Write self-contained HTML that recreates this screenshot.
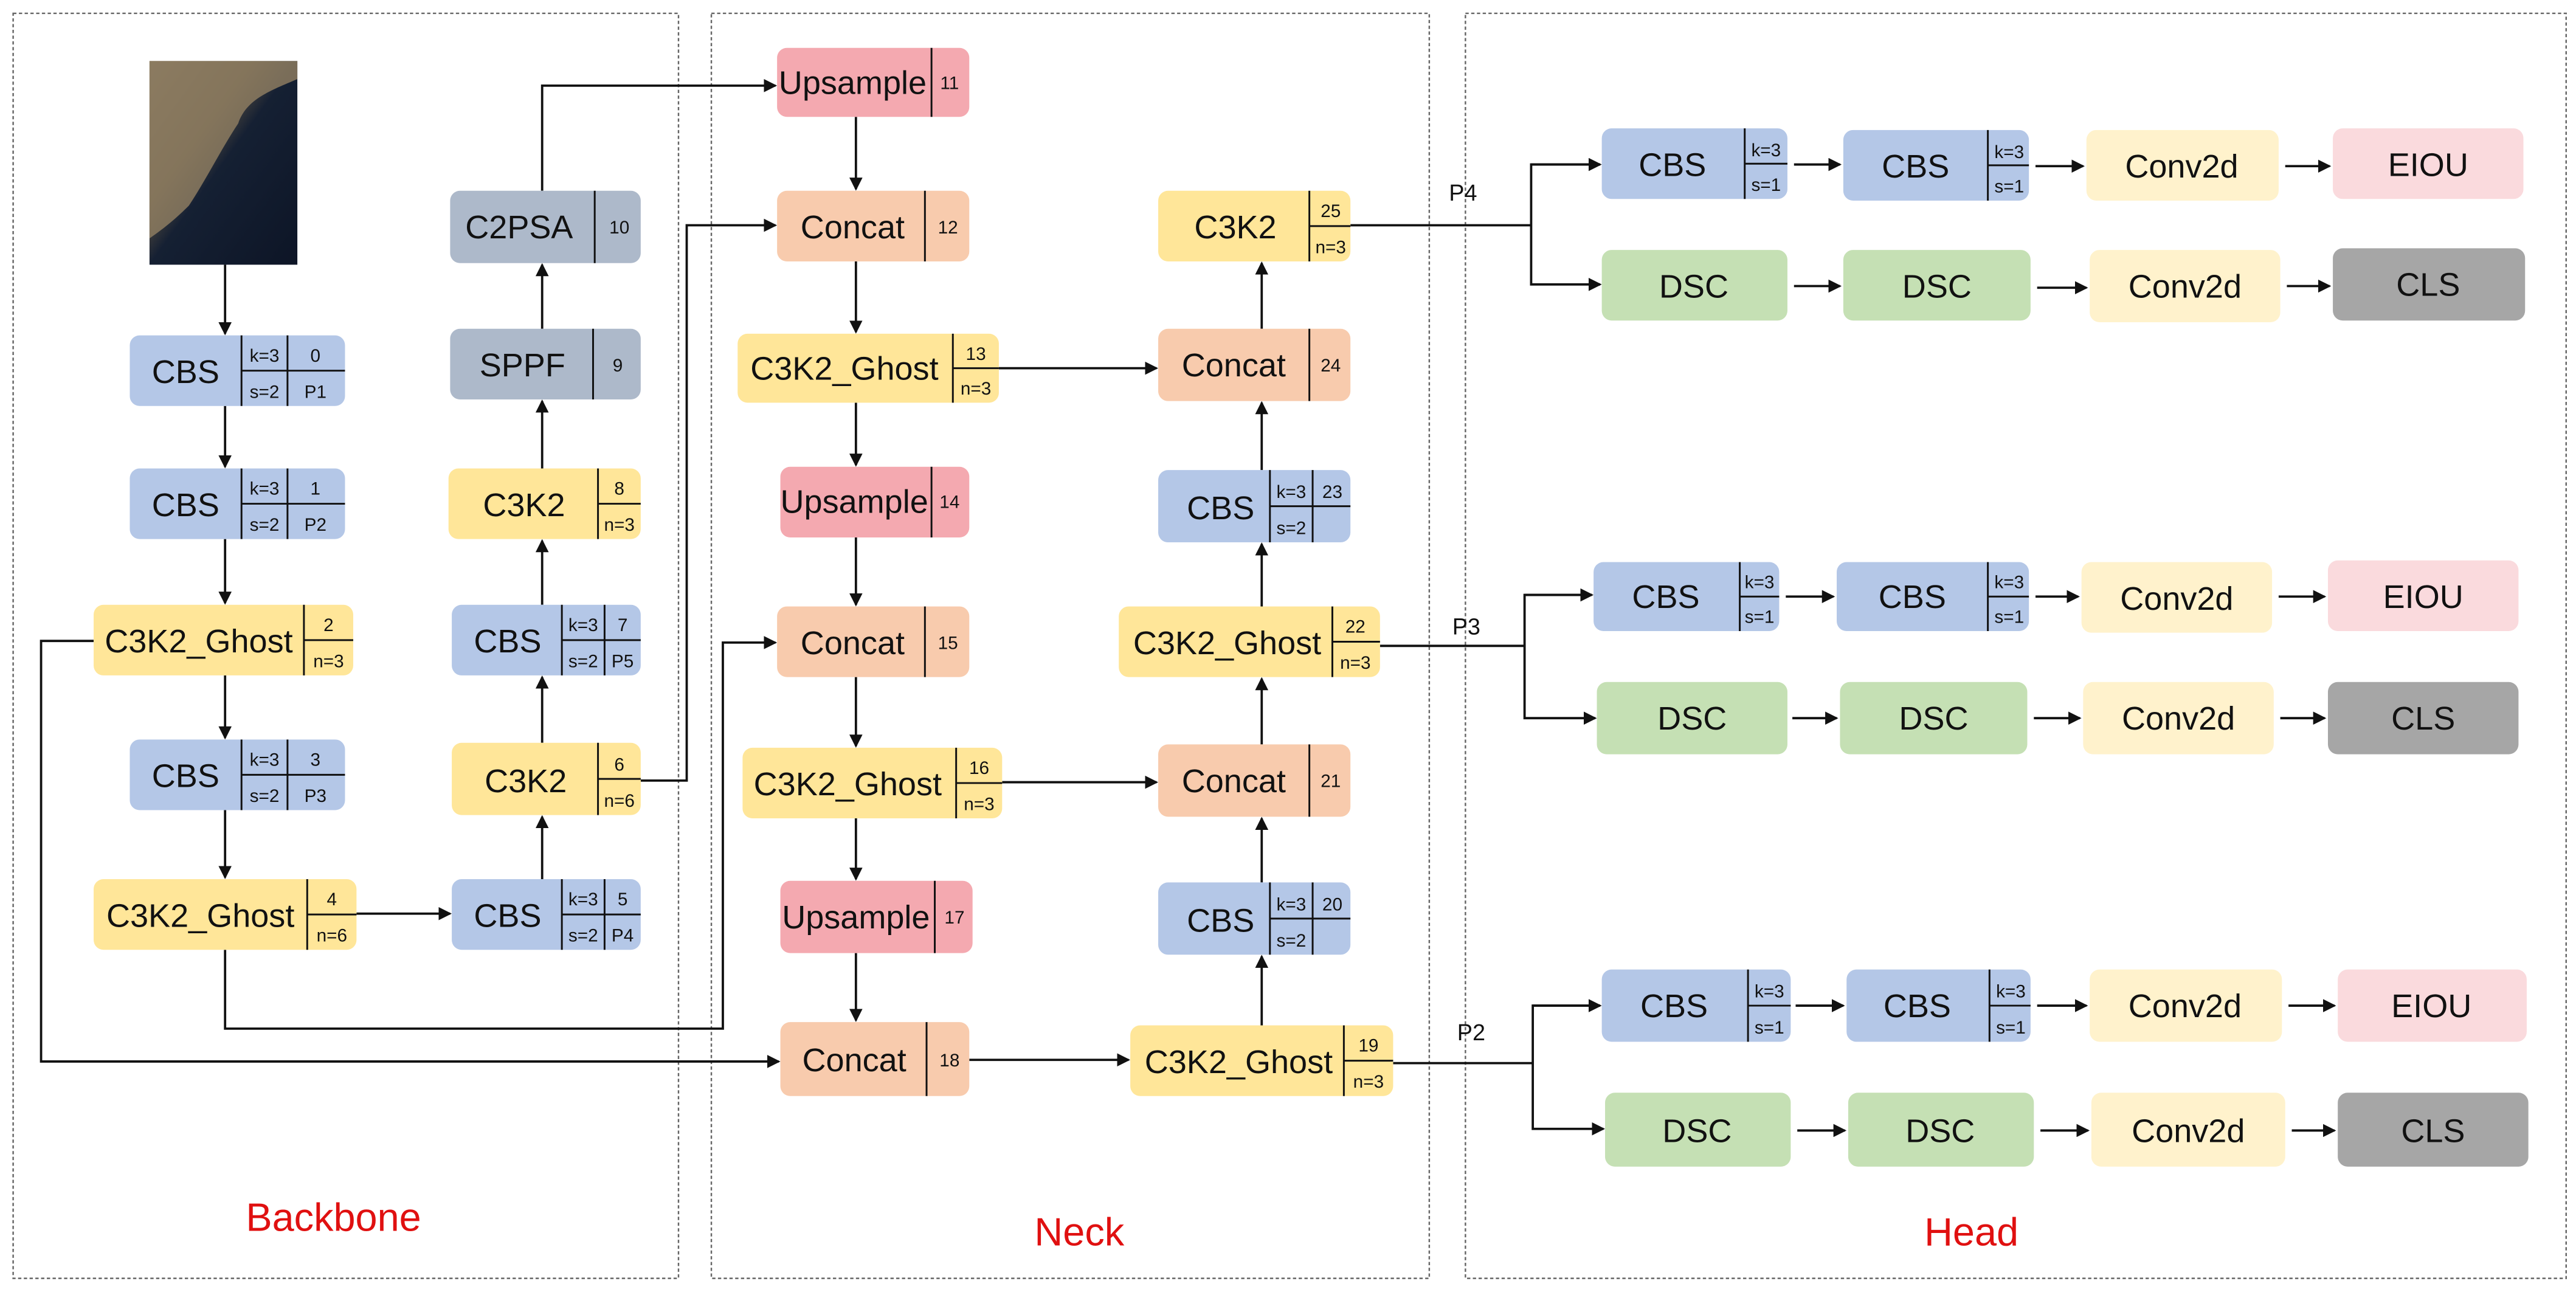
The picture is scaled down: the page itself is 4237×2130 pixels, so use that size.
<!DOCTYPE html>
<html><head><meta charset="utf-8"><style>
html,body{margin:0;padding:0;background:#fff;}
svg{display:block;}
text{font-family:"Liberation Sans",Arial,sans-serif;fill:#111;}
.m{font-size:20px;text-anchor:middle;}
.s{font-size:11px;text-anchor:middle;}
.l{stroke:#111;stroke-width:1.4;fill:none;}
.d{stroke:#111;stroke-width:1.1;}
</style></head><body>
<svg width="4237" height="2130" viewBox="0 0 1568 788" xmlns="http://www.w3.org/2000/svg">
<defs>
<marker id="a" markerWidth="8" markerHeight="8" refX="7" refY="4" orient="auto" markerUnits="userSpaceOnUse"><path d="M0,0 L8,4 L0,8 z" fill="#111"/></marker>
<linearGradient id="img" x1="0" y1="0" x2="1" y2="1"><stop offset="0" stop-color="#8a7a62"/><stop offset="0.35" stop-color="#5a5040"/><stop offset="0.5" stop-color="#152033"/><stop offset="1" stop-color="#0d1526"/></linearGradient>
</defs>
<rect width="1568" height="788" fill="#fff"/>
<!-- panels -->
<g fill="none" stroke="#666" stroke-width="0.9" stroke-dasharray="2,1.5">
<rect x="8" y="8" width="405" height="770"/>
<rect x="433" y="8" width="437" height="770"/>
<rect x="892" y="8" width="670" height="770"/>
</g>
<g style="font-size:24px;fill:#e01010" text-anchor="middle">
<text x="203" y="749" style="fill:#e01010">Backbone</text>
<text x="657" y="758" style="fill:#e01010">Neck</text>
<text x="1200" y="758" style="fill:#e01010">Head</text>
</g>
<!-- image -->
<rect x="91" y="37" width="90" height="124" fill="url(#img)"/>
<path d="M91,37 L181,37 L181,48 C165,55 150,60 145,75 C135,90 125,110 115,125 C105,135 98,140 91,145 Z" fill="#8c7b60" opacity="0.85"/>

<!-- connectors -->
<g class="l">
<path d="M137,161 V203" marker-end="url(#a)"/>
<path d="M137,247 V284" marker-end="url(#a)"/>
<path d="M137,328 V367" marker-end="url(#a)"/>
<path d="M137,411 V449" marker-end="url(#a)"/>
<path d="M137,493 V534" marker-end="url(#a)"/>
<path d="M217,556 H274" marker-end="url(#a)"/>
<path d="M330,535 V497" marker-end="url(#a)"/>
<path d="M330,452 V412" marker-end="url(#a)"/>
<path d="M330,368 V329" marker-end="url(#a)"/>
<path d="M330,285 V244" marker-end="url(#a)"/>
<path d="M330,200 V161" marker-end="url(#a)"/>
<path d="M330,116 V52 H472" marker-end="url(#a)"/>
<path d="M390,475 H418 V137 H472" marker-end="url(#a)"/>
<path d="M57,390 H25 V646 H474" marker-end="url(#a)"/>
<path d="M137,578 V626 H440 V391 H472" marker-end="url(#a)"/>
<path d="M521,71 V115" marker-end="url(#a)"/>
<path d="M521,159 V202" marker-end="url(#a)"/>
<path d="M521,245 V283" marker-end="url(#a)"/>
<path d="M521,327 V368" marker-end="url(#a)"/>
<path d="M521,412 V454" marker-end="url(#a)"/>
<path d="M521,498 V535" marker-end="url(#a)"/>
<path d="M521,580 V621" marker-end="url(#a)"/>
<path d="M608,224 H704" marker-end="url(#a)"/>
<path d="M610,476 H704" marker-end="url(#a)"/>
<path d="M590,645 H687" marker-end="url(#a)"/>
<path d="M768,624 V582" marker-end="url(#a)"/>
<path d="M768,537 V498" marker-end="url(#a)"/>
<path d="M768,453 V413" marker-end="url(#a)"/>
<path d="M768,369 V331" marker-end="url(#a)"/>
<path d="M768,286 V245" marker-end="url(#a)"/>
<path d="M768,200 V160" marker-end="url(#a)"/>
<path d="M822,137 H932"/>
<path d="M974,100 H932 V173 H974" marker-end="url(#a)"/>
<path d="M932,100 H974" marker-end="url(#a)"/>
<path d="M840,393 H928"/>
<path d="M969,362 H928 V437 H971" marker-end="url(#a)"/>
<path d="M928,362 H969" marker-end="url(#a)"/>
<path d="M848,647 H933"/>
<path d="M974,612 H933 V687 H976" marker-end="url(#a)"/>
<path d="M933,612 H974" marker-end="url(#a)"/>
<!-- head internal arrows -->
<path d="M1092,100 H1120" marker-end="url(#a)"/><path d="M1239,101 H1268" marker-end="url(#a)"/><path d="M1391,101 H1418" marker-end="url(#a)"/>
<path d="M1092,174 H1120" marker-end="url(#a)"/><path d="M1240,175 H1270" marker-end="url(#a)"/><path d="M1392,174 H1418" marker-end="url(#a)"/>
<path d="M1087,363 H1116" marker-end="url(#a)"/><path d="M1239,363 H1265" marker-end="url(#a)"/><path d="M1387,363 H1415" marker-end="url(#a)"/>
<path d="M1091,437 H1118" marker-end="url(#a)"/><path d="M1238,437 H1266" marker-end="url(#a)"/><path d="M1388,437 H1415" marker-end="url(#a)"/>
<path d="M1093,612 H1122" marker-end="url(#a)"/><path d="M1240,612 H1270" marker-end="url(#a)"/><path d="M1393,612 H1421" marker-end="url(#a)"/>
<path d="M1094,688 H1123" marker-end="url(#a)"/><path d="M1242,688 H1271" marker-end="url(#a)"/><path d="M1395,688 H1421" marker-end="url(#a)"/>
</g>
<g style="font-size:14px">
<text x="882" y="122">P4</text><text x="884" y="386">P3</text><text x="887" y="633">P2</text>
</g>

<!-- Backbone boxes -->
<g>
<!-- CBS type -->
<g id="cbs0">
<rect x="79" y="204" width="131" height="43" rx="6" fill="#b4c7e7"/>
<line class="d" x1="147" y1="204" x2="147" y2="247"/><line class="d" x1="175" y1="204" x2="175" y2="247"/><line class="d" x1="147" y1="225.5" x2="210" y2="225.5"/>
<text class="m" x="113" y="233">CBS</text><text class="s" x="161" y="220">k=3</text><text class="s" x="161" y="242">s=2</text><text class="s" x="192" y="220">0</text><text class="s" x="192" y="242">P1</text>
</g>
<rect x="79" y="285" width="131" height="43" rx="6" fill="#b4c7e7"/>
<line class="d" x1="147" y1="285" x2="147" y2="328"/><line class="d" x1="175" y1="285" x2="175" y2="328"/><line class="d" x1="147" y1="306.5" x2="210" y2="306.5"/>
<text class="m" x="113" y="314">CBS</text><text class="s" x="161" y="301">k=3</text><text class="s" x="161" y="323">s=2</text><text class="s" x="192" y="301">1</text><text class="s" x="192" y="323">P2</text>

<rect x="79" y="450" width="131" height="43" rx="6" fill="#b4c7e7"/>
<line class="d" x1="147" y1="450" x2="147" y2="493"/><line class="d" x1="175" y1="450" x2="175" y2="493"/><line class="d" x1="147" y1="471.5" x2="210" y2="471.5"/>
<text class="m" x="113" y="479">CBS</text><text class="s" x="161" y="466">k=3</text><text class="s" x="161" y="488">s=2</text><text class="s" x="192" y="466">3</text><text class="s" x="192" y="488">P3</text>

<rect x="275" y="535" width="115" height="43" rx="6" fill="#b4c7e7"/>
<line class="d" x1="342" y1="535" x2="342" y2="578"/><line class="d" x1="368" y1="535" x2="368" y2="578"/><line class="d" x1="342" y1="556.5" x2="390" y2="556.5"/>
<text class="m" x="309" y="564">CBS</text><text class="s" x="355" y="551">k=3</text><text class="s" x="355" y="573">s=2</text><text class="s" x="379" y="551">5</text><text class="s" x="379" y="573">P4</text>

<rect x="275" y="368" width="115" height="43" rx="6" fill="#b4c7e7"/>
<line class="d" x1="342" y1="368" x2="342" y2="411"/><line class="d" x1="368" y1="368" x2="368" y2="411"/><line class="d" x1="342" y1="389.5" x2="390" y2="389.5"/>
<text class="m" x="309" y="397">CBS</text><text class="s" x="355" y="384">k=3</text><text class="s" x="355" y="406">s=2</text><text class="s" x="379" y="384">7</text><text class="s" x="379" y="406">P5</text>

<!-- C3K2 types -->
<rect x="57" y="368" width="158" height="43" rx="6" fill="#ffe699"/>
<line class="d" x1="185" y1="368" x2="185" y2="411"/><line class="d" x1="185" y1="389.5" x2="215" y2="389.5"/>
<text class="m" x="121" y="397">C3K2_Ghost</text><text class="s" x="200" y="384">2</text><text class="s" x="200" y="406">n=3</text>

<rect x="57" y="535" width="160" height="43" rx="6" fill="#ffe699"/>
<line class="d" x1="187" y1="535" x2="187" y2="578"/><line class="d" x1="187" y1="556.5" x2="217" y2="556.5"/>
<text class="m" x="122" y="564">C3K2_Ghost</text><text class="s" x="202" y="551">4</text><text class="s" x="202" y="573">n=6</text>

<rect x="275" y="452" width="115" height="44" rx="6" fill="#ffe699"/>
<line class="d" x1="364" y1="452" x2="364" y2="496"/><line class="d" x1="364" y1="474" x2="390" y2="474"/>
<text class="m" x="320" y="482">C3K2</text><text class="s" x="377" y="469">6</text><text class="s" x="377" y="491">n=6</text>

<rect x="273" y="285" width="117" height="43" rx="6" fill="#ffe699"/>
<line class="d" x1="364" y1="285" x2="364" y2="328"/><line class="d" x1="364" y1="306.5" x2="390" y2="306.5"/>
<text class="m" x="319" y="314">C3K2</text><text class="s" x="377" y="301">8</text><text class="s" x="377" y="323">n=3</text>

<rect x="274" y="200" width="116" height="43" rx="6" fill="#adb9ca"/>
<line class="d" x1="361" y1="200" x2="361" y2="243"/>
<text class="m" x="318" y="229">SPPF</text><text class="s" x="376" y="226">9</text>

<rect x="274" y="116" width="116" height="44" rx="6" fill="#adb9ca"/>
<line class="d" x1="362" y1="116" x2="362" y2="160"/>
<text class="m" x="316" y="145">C2PSA</text><text class="s" x="377" y="142">10</text>
</g>

<!-- Neck boxes -->
<g>
<rect x="473" y="29" width="117" height="42" rx="6" fill="#f4a9b0"/><line class="d" x1="567" y1="29" x2="567" y2="71"/>
<text class="m" x="519" y="57">Upsample</text><text class="s" x="578" y="54">11</text>
<rect x="473" y="116" width="117" height="43" rx="6" fill="#f8cbad"/><line class="d" x1="563" y1="116" x2="563" y2="159"/>
<text class="m" x="519" y="145">Concat</text><text class="s" x="577" y="142">12</text>
<rect x="449" y="203" width="159" height="42" rx="6" fill="#ffe699"/><line class="d" x1="580" y1="203" x2="580" y2="245"/><line class="d" x1="580" y1="224" x2="608" y2="224"/>
<text class="m" x="514" y="231">C3K2_Ghost</text><text class="s" x="594" y="219">13</text><text class="s" x="594" y="240">n=3</text>
<rect x="475" y="284" width="115" height="43" rx="6" fill="#f4a9b0"/><line class="d" x1="567" y1="284" x2="567" y2="327"/>
<text class="m" x="520" y="312">Upsample</text><text class="s" x="578" y="309">14</text>
<rect x="473" y="369" width="117" height="43" rx="6" fill="#f8cbad"/><line class="d" x1="563" y1="369" x2="563" y2="412"/>
<text class="m" x="519" y="398">Concat</text><text class="s" x="577" y="395">15</text>
<rect x="452" y="455" width="158" height="43" rx="6" fill="#ffe699"/><line class="d" x1="582" y1="455" x2="582" y2="498"/><line class="d" x1="582" y1="476.5" x2="610" y2="476.5"/>
<text class="m" x="516" y="484">C3K2_Ghost</text><text class="s" x="596" y="471">16</text><text class="s" x="596" y="493">n=3</text>
<rect x="475" y="536" width="117" height="44" rx="6" fill="#f4a9b0"/><line class="d" x1="569" y1="536" x2="569" y2="580"/>
<text class="m" x="521" y="565">Upsample</text><text class="s" x="581" y="562">17</text>
<rect x="475" y="622" width="115" height="45" rx="6" fill="#f8cbad"/><line class="d" x1="564" y1="622" x2="564" y2="667"/>
<text class="m" x="520" y="652">Concat</text><text class="s" x="578" y="649">18</text>

<rect x="688" y="624" width="160" height="43" rx="6" fill="#ffe699"/><line class="d" x1="818" y1="624" x2="818" y2="667"/><line class="d" x1="818" y1="645.5" x2="848" y2="645.5"/>
<text class="m" x="754" y="653">C3K2_Ghost</text><text class="s" x="833" y="640">19</text><text class="s" x="833" y="662">n=3</text>
<rect x="705" y="537" width="117" height="44" rx="6" fill="#b4c7e7"/>
<line class="d" x1="773" y1="537" x2="773" y2="581"/><line class="d" x1="799" y1="537" x2="799" y2="581"/><line class="d" x1="773" y1="559" x2="822" y2="559"/>
<text class="m" x="743" y="567">CBS</text><text class="s" x="786" y="554">k=3</text><text class="s" x="786" y="576">s=2</text><text class="s" x="811" y="554">20</text>
<rect x="705" y="453" width="117" height="44" rx="6" fill="#f8cbad"/><line class="d" x1="797" y1="453" x2="797" y2="497"/>
<text class="m" x="751" y="482">Concat</text><text class="s" x="810" y="479">21</text>
<rect x="681" y="369" width="159" height="43" rx="6" fill="#ffe699"/><line class="d" x1="811" y1="369" x2="811" y2="412"/><line class="d" x1="811" y1="390.5" x2="840" y2="390.5"/>
<text class="m" x="747" y="398">C3K2_Ghost</text><text class="s" x="825" y="385">22</text><text class="s" x="825" y="407">n=3</text>
<rect x="705" y="286" width="117" height="44" rx="6" fill="#b4c7e7"/>
<line class="d" x1="773" y1="286" x2="773" y2="330"/><line class="d" x1="799" y1="286" x2="799" y2="330"/><line class="d" x1="773" y1="308" x2="822" y2="308"/>
<text class="m" x="743" y="316">CBS</text><text class="s" x="786" y="303">k=3</text><text class="s" x="786" y="325">s=2</text><text class="s" x="811" y="303">23</text>
<rect x="705" y="200" width="117" height="44" rx="6" fill="#f8cbad"/><line class="d" x1="797" y1="200" x2="797" y2="244"/>
<text class="m" x="751" y="229">Concat</text><text class="s" x="810" y="226">24</text>
<rect x="705" y="116" width="117" height="43" rx="6" fill="#ffe699"/><line class="d" x1="797" y1="116" x2="797" y2="159"/><line class="d" x1="797" y1="137.5" x2="822" y2="137.5"/>
<text class="m" x="752" y="145">C3K2</text><text class="s" x="810" y="132">25</text><text class="s" x="810" y="154">n=3</text>
</g>

<!-- Head -->
<g>
<!-- row 1 -->
<rect x="975" y="78" width="113" height="43" rx="6" fill="#b4c7e7"/><line class="d" x1="1062" y1="78" x2="1062" y2="121"/><line class="d" x1="1062" y1="99.5" x2="1088" y2="99.5"/>
<text class="m" x="1018" y="107">CBS</text><text class="s" x="1075" y="95">k=3</text><text class="s" x="1075" y="116">s=1</text>
<rect x="1122" y="79" width="113" height="43" rx="6" fill="#b4c7e7"/><line class="d" x1="1210" y1="79" x2="1210" y2="122"/><line class="d" x1="1210" y1="100.5" x2="1235" y2="100.5"/>
<text class="m" x="1166" y="108">CBS</text><text class="s" x="1223" y="96">k=3</text><text class="s" x="1223" y="117">s=1</text>
<rect x="1270" y="79" width="117" height="43" rx="6" fill="#fff2cc"/><text class="m" x="1328" y="108">Conv2d</text>
<rect x="1420" y="78" width="116" height="43" rx="6" fill="#fadadd"/><text class="m" x="1478" y="107">EIOU</text>
<rect x="975" y="152" width="113" height="43" rx="6" fill="#c5e0b4"/><text class="m" x="1031" y="181">DSC</text>
<rect x="1122" y="152" width="114" height="43" rx="6" fill="#c5e0b4"/><text class="m" x="1179" y="181">DSC</text>
<rect x="1272" y="152" width="116" height="44" rx="6" fill="#fff2cc"/><text class="m" x="1330" y="181">Conv2d</text>
<rect x="1420" y="151" width="117" height="44" rx="6" fill="#a6a6a6"/><text class="m" x="1478" y="180">CLS</text>
<!-- row 2 -->
<rect x="970" y="342" width="113" height="42" rx="6" fill="#b4c7e7"/><line class="d" x1="1059" y1="342" x2="1059" y2="384"/><line class="d" x1="1059" y1="363" x2="1083" y2="363"/>
<text class="m" x="1014" y="370">CBS</text><text class="s" x="1071" y="358">k=3</text><text class="s" x="1071" y="379">s=1</text>
<rect x="1118" y="342" width="117" height="42" rx="6" fill="#b4c7e7"/><line class="d" x1="1210" y1="342" x2="1210" y2="384"/><line class="d" x1="1210" y1="363" x2="1235" y2="363"/>
<text class="m" x="1164" y="370">CBS</text><text class="s" x="1223" y="358">k=3</text><text class="s" x="1223" y="379">s=1</text>
<rect x="1267" y="342" width="116" height="43" rx="6" fill="#fff2cc"/><text class="m" x="1325" y="371">Conv2d</text>
<rect x="1417" y="341" width="116" height="43" rx="6" fill="#fadadd"/><text class="m" x="1475" y="370">EIOU</text>
<rect x="972" y="415" width="116" height="44" rx="6" fill="#c5e0b4"/><text class="m" x="1030" y="444">DSC</text>
<rect x="1120" y="415" width="114" height="44" rx="6" fill="#c5e0b4"/><text class="m" x="1177" y="444">DSC</text>
<rect x="1268" y="415" width="116" height="44" rx="6" fill="#fff2cc"/><text class="m" x="1326" y="444">Conv2d</text>
<rect x="1417" y="415" width="116" height="44" rx="6" fill="#a6a6a6"/><text class="m" x="1475" y="444">CLS</text>
<!-- row 3 -->
<rect x="975" y="590" width="115" height="44" rx="6" fill="#b4c7e7"/><line class="d" x1="1064" y1="590" x2="1064" y2="634"/><line class="d" x1="1064" y1="612" x2="1090" y2="612"/>
<text class="m" x="1019" y="619">CBS</text><text class="s" x="1077" y="607">k=3</text><text class="s" x="1077" y="629">s=1</text>
<rect x="1124" y="590" width="112" height="44" rx="6" fill="#b4c7e7"/><line class="d" x1="1211" y1="590" x2="1211" y2="634"/><line class="d" x1="1211" y1="612" x2="1236" y2="612"/>
<text class="m" x="1167" y="619">CBS</text><text class="s" x="1224" y="607">k=3</text><text class="s" x="1224" y="629">s=1</text>
<rect x="1272" y="590" width="117" height="44" rx="6" fill="#fff2cc"/><text class="m" x="1330" y="619">Conv2d</text>
<rect x="1423" y="590" width="115" height="44" rx="6" fill="#fadadd"/><text class="m" x="1480" y="619">EIOU</text>
<rect x="977" y="665" width="113" height="45" rx="6" fill="#c5e0b4"/><text class="m" x="1033" y="695">DSC</text>
<rect x="1125" y="665" width="113" height="45" rx="6" fill="#c5e0b4"/><text class="m" x="1181" y="695">DSC</text>
<rect x="1273" y="665" width="118" height="45" rx="6" fill="#fff2cc"/><text class="m" x="1332" y="695">Conv2d</text>
<rect x="1423" y="665" width="116" height="45" rx="6" fill="#a6a6a6"/><text class="m" x="1481" y="695">CLS</text>
</g>
</svg>
</body></html>
